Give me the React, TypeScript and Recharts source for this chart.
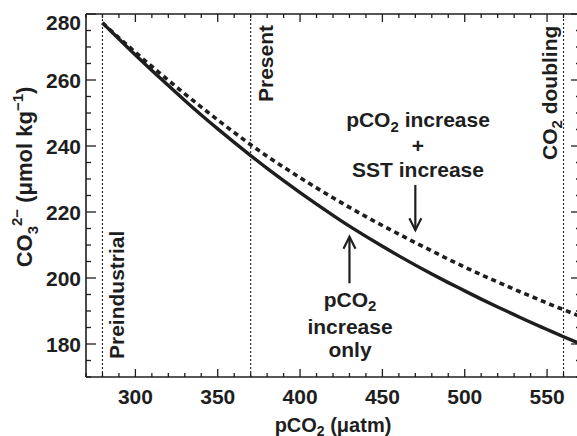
import { LineChart, Line, XAxis, YAxis, ReferenceLine } from 'recharts'

// pCO2 (uatm) sample points and carbonate ion concentration
const pco2 = [280, 290, 300, 310, 320, 330, 340, 350, 360, 370, 380, 390, 400, 410, 420, 430, 440, 450, 460, 470, 480, 490, 500, 510, 520, 530, 540, 550, 560, 570]
const co3PcoOnly = [277.3, 272.4, 267.6, 262.9, 258.3, 253.8, 249.4, 245.2, 241.1, 237.1, 233.2, 229.5, 225.9, 222.4, 219.0, 215.7, 212.6, 209.6, 206.7, 203.9, 201.2, 198.6, 196.1, 193.6, 191.2, 188.9, 186.6, 184.4, 182.2, 180.1]
const co3PcoSst = [277.3, 272.8, 268.4, 264.1, 259.9, 255.8, 251.8, 247.9, 244.1, 240.4, 236.9, 233.6, 230.4, 227.3, 224.3, 221.4, 218.6, 215.9, 213.3, 210.7, 208.2, 205.7, 203.3, 201.0, 198.8, 196.6, 194.5, 192.4, 190.4, 188.4]

const xTicks = [270, 280, 290, 300, 310, 320, 330, 340, 350, 360, 370, 380, 390, 400, 410, 420, 430, 440, 450, 460, 470, 480, 490, 500, 510, 520, 530, 540, 550, 560, 570]
const xLabels = [300, 350, 400, 450, 500, 550]
const yTicks = [170, 175, 180, 185, 190, 195, 200, 205, 210, 215, 220, 225, 230, 235, 240, 245, 250, 255, 260, 265, 270, 275, 280]
const yLabels = [180, 200, 220, 240, 260, 280]

// marker lines: preindustrial, present, doubling
const markers = [280, 370, 560]

const data = pco2.map((p, i) => ({ p, only: co3PcoOnly[i], sst: co3PcoSst[i] }))

const INK = '#1e1e1e'
const FONT = '"Liberation Sans", Arial, Helvetica, sans-serif'

const BottomTick = (props: any) => {
  const { x, y, payload } = props
  const major = xLabels.includes(payload.value)
  return (
    <g>
      <line x1={x} x2={x} y1={y} y2={y - (major ? 8 : 4)} stroke={INK} strokeWidth={1.3} />
      {major && (
        <text x={x} y={y + 27} textAnchor="middle" fontSize={21} fontWeight="bold" fill={INK} fontFamily={FONT}>
          {payload.value}
        </text>
      )}
    </g>
  )
}

const TopTick = (props: any) => {
  const { x, y, payload } = props
  const major = xLabels.includes(payload.value)
  return <line x1={x} x2={x} y1={y} y2={y + (major ? 8 : 4)} stroke={INK} strokeWidth={1.3} />
}

const LeftTick = (props: any) => {
  const { x, y, payload } = props
  const major = yLabels.includes(payload.value)
  // the top label sits a little below its tick in the original
  const shift = payload.value === 280 ? 8 : 0
  return (
    <g>
      <line x1={x} x2={x + (major ? 10 : 5)} y1={y} y2={y} stroke={INK} strokeWidth={1.3} />
      {major && (
        <text x={x - 5} y={y + shift} dy="0.36em" textAnchor="end" fontSize={21} fontWeight="bold" fill={INK} fontFamily={FONT}>
          {payload.value}
        </text>
      )}
    </g>
  )
}

const RightTick = (props: any) => {
  const { x, y, payload } = props
  const major = yLabels.includes(payload.value)
  return <line x1={x} x2={x - (major ? 9 : 4)} y1={y} y2={y} stroke={INK} strokeWidth={1.3} />
}

const Arrow = (props: any) => {
  const { x1, y1, x2, y2 } = props
  const dir = y2 > y1 ? 1 : -1
  return (
    <g stroke={INK} strokeWidth={2.2} fill="none">
      <line x1={x1} y1={y1} x2={x2} y2={y2} />
      <polyline points={`${x2 - 6},${y2 - dir * 12} ${x2},${y2} ${x2 + 6},${y2 - dir * 12}`} />
    </g>
  )
}

const markerLabel = (text: 'pre' | 'now' | 'dbl') => (props: any) => {
  const vb = props.viewBox || {}
  const lx = vb.x ?? 0
  const common = { fontSize: 21, fontWeight: 'bold' as const, fill: INK, fontFamily: FONT }
  if (text === 'pre') {
    const bx = lx + 22
    return <text transform={`rotate(-90 ${bx} 359)`} x={bx} y={359} {...common}>Preindustrial</text>
  }
  if (text === 'now') {
    const bx = lx + 22
    return <text transform={`rotate(-90 ${bx} 102)`} x={bx} y={102} {...common}>Present</text>
  }
  const bx = lx - 7
  return (
    <text transform={`rotate(-90 ${bx} 160)`} x={bx} y={160} {...common}>
      CO<tspan dy={5} fontSize={15}>2</tspan><tspan dy={-5}> doubling</tspan>
    </text>
  )
}

const labelKinds: Array<'pre' | 'now' | 'dbl'> = ['pre', 'now', 'dbl']

const axisCommon = {
  type: 'number' as const,
  allowDataOverflow: true,
  interval: 0 as const,
  tickSize: 0,
  tickMargin: 0,
  tickLine: false,
  axisLine: { stroke: INK, strokeWidth: 1.6 },
}

export default function App() {
  return (
    <div style={{ position: 'absolute', left: 0, top: 0, width: 577, height: 436, overflow: 'hidden', background: '#fff' }}>
      <LineChart width={582} height={436} data={data} margin={{ top: 13, right: 1, bottom: 58, left: 85 }}>
        <XAxis {...axisCommon} dataKey="p" domain={[270, 570]} ticks={xTicks} height={1} tick={<BottomTick />} />
        <XAxis {...axisCommon} xAxisId="top" orientation="top" dataKey="p" domain={[270, 570]} ticks={xTicks} height={1} tick={<TopTick />} />
        <YAxis {...axisCommon} domain={[170, 280]} ticks={yTicks} width={1} tick={<LeftTick />} />
        <YAxis {...axisCommon} yAxisId="right" orientation="right" domain={[170, 280]} ticks={yTicks} width={1} tick={<RightTick />} />

        {markers.map((m, i) => (
          <ReferenceLine key={m} x={m} stroke={INK} strokeWidth={1.1} strokeDasharray="2 2" label={markerLabel(labelKinds[i])} />
        ))}

        <Line type="monotone" dataKey="sst" stroke={INK} strokeWidth={3.6} strokeDasharray="5 4" dot={false} isAnimationActive={false} />
        <Line type="monotone" dataKey="only" stroke={INK} strokeWidth={3.4} dot={false} isAnimationActive={false} />

        <ReferenceLine segment={[{ x: 470, y: 228.2 }, { x: 470, y: 214.5 }]} shape={<Arrow />} />
        <ReferenceLine segment={[{ x: 430, y: 198.4 }, { x: 430, y: 212.5 }]} shape={<Arrow />} />

        <g fontFamily={FONT} fontWeight="bold" fill={INK}>
          <text x={418} y={127} textAnchor="middle" fontSize={21}>
            pCO<tspan dy={5} fontSize={15}>2</tspan><tspan dy={-5}> increase</tspan>
          </text>
          <text x={418} y={153} textAnchor="middle" fontSize={21}>+</text>
          <text x={418} y={177} textAnchor="middle" fontSize={21}>SST increase</text>

          <text x={350} y={307} textAnchor="middle" fontSize={21}>
            pCO<tspan dy={4} fontSize={15}>2</tspan>
          </text>
          <text x={350} y={334} textAnchor="middle" fontSize={21}>increase</text>
          <text x={350} y={357} textAnchor="middle" fontSize={21}>only</text>

          <text x={333} y={432} textAnchor="middle" fontSize={20}>
            pCO<tspan dy={4} fontSize={14}>2</tspan><tspan dy={-4}> (μatm)</tspan>
          </text>

          <text transform="rotate(-90 32 177)" x={32} y={177} textAnchor="middle" fontSize={22}>
            CO<tspan dy={6} fontSize={15}>3</tspan><tspan dy={-16} fontSize={15}>2−</tspan><tspan dy={10}> (μmol kg</tspan><tspan dy={-9} fontSize={15}>−1</tspan><tspan dy={9}>)</tspan>
          </text>
        </g>
      </LineChart>
    </div>
  )
}
